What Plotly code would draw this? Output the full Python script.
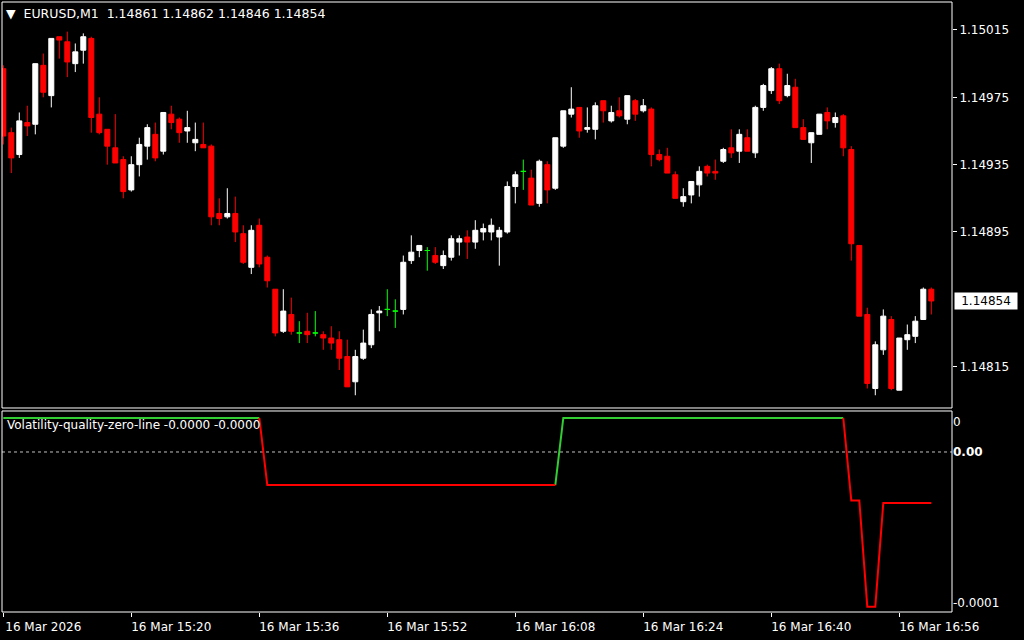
import pandas as pd
import plotly.graph_objects as go

# ---------------- data ----------------
times = pd.date_range("2026-03-16 15:04", periods=117, freq="min")

opens = [1.14992, 1.14954, 1.14941, 1.14960, 1.14959, 1.14994, 1.14976, 1.15011, 1.15008, 1.14995,
         1.15003, 1.15010, 1.14965, 1.14956, 1.14945, 1.14938, 1.14920, 1.14935, 1.14946, 1.14953,
         1.14943, 1.14965, 1.14962, 1.14955, 1.14948, 1.14947, 1.14946, 1.14906, 1.14904, 1.14906,
         1.14894, 1.14874, 1.14899, 1.14880, 1.14861, 1.14836, 1.14846, 1.14835, 1.14836, 1.14835,
         1.14834, 1.14832, 1.14831, 1.14821, 1.14806, 1.14820, 1.14828, 1.14847, 1.14849, 1.14848,
         1.14849, 1.14878, 1.14884, 1.14884, 1.14881, 1.14875, 1.14880, 1.14889, 1.14892, 1.14889,
         1.14895, 1.14895, 1.14892, 1.14895, 1.14922, 1.14931, 1.14927, 1.14912, 1.14935, 1.14921,
         1.14946, 1.14965, 1.14969, 1.14956, 1.14956, 1.14973, 1.14961, 1.14967, 1.14962, 1.14973,
         1.14967, 1.14968, 1.14941, 1.14940, 1.14929, 1.14913, 1.14917, 1.14923, 1.14934, 1.14931,
         1.14937, 1.14945, 1.14943, 1.14951, 1.14942, 1.14969, 1.14979, 1.14992, 1.14976, 1.14981,
         1.14957, 1.14948, 1.14953, 1.14966, 1.14960, 1.14964, 1.14944, 1.14887, 1.14846, 1.14802,
         1.14825, 1.14843, 1.14801, 1.14831, 1.14833, 1.14843, 1.14861]

highs = [1.14994, 1.14957, 1.14966, 1.14970, 1.14995, 1.15001, 1.15010, 1.15011, 1.15014, 1.15007,
         1.15013, 1.15011, 1.14975, 1.14956, 1.14965, 1.14940, 1.14940, 1.14951, 1.14959, 1.14960,
         1.14966, 1.14970, 1.14963, 1.14967, 1.14960, 1.14960, 1.14947, 1.14915, 1.14921, 1.14916,
         1.14899, 1.14899, 1.14903, 1.14881, 1.14861, 1.14861, 1.14856, 1.14842, 1.14847, 1.14848,
         1.14836, 1.14839, 1.14836, 1.14831, 1.14825, 1.14837, 1.14849, 1.14851, 1.14861, 1.14855,
         1.14881, 1.14893, 1.14887, 1.14886, 1.14886, 1.14884, 1.14893, 1.14893, 1.14896, 1.14902,
         1.14900, 1.14903, 1.14898, 1.14925, 1.14931, 1.14938, 1.14932, 1.14938, 1.14937, 1.14951,
         1.14967, 1.14981, 1.14969, 1.14969, 1.14972, 1.14973, 1.14970, 1.14975, 1.14976, 1.14974,
         1.14974, 1.14969, 1.14944, 1.14945, 1.14931, 1.14921, 1.14925, 1.14934, 1.14935, 1.14938,
         1.14945, 1.14956, 1.14956, 1.14956, 1.14970, 1.14983, 1.14993, 1.14995, 1.14989, 1.14986,
         1.14962, 1.14954, 1.14965, 1.14969, 1.14966, 1.14965, 1.14946, 1.14887, 1.14850, 1.14830,
         1.14849, 1.14845, 1.14832, 1.14840, 1.14845, 1.14862, 1.14862]

lows = [1.14947, 1.14930, 1.14939, 1.14952, 1.14953, 1.14975, 1.14969, 1.14998, 1.14987, 1.14990,
        1.14995, 1.14954, 1.14953, 1.14935, 1.14936, 1.14915, 1.14919, 1.14928, 1.14938, 1.14937,
        1.14941, 1.14956, 1.14948, 1.14948, 1.14943, 1.14945, 1.14899, 1.14899, 1.14903, 1.14889,
        1.14876, 1.14870, 1.14874, 1.14862, 1.14833, 1.14835, 1.14834, 1.14829, 1.14829, 1.14833,
        1.14825, 1.14825, 1.14813, 1.14803, 1.14798, 1.14819, 1.14826, 1.14836, 1.14845, 1.14838,
        1.14846, 1.14876, 1.14880, 1.14872, 1.14876, 1.14873, 1.14878, 1.14881, 1.14879, 1.14885,
        1.14890, 1.14890, 1.14875, 1.14894, 1.14912, 1.14920, 1.14911, 1.14910, 1.14912, 1.14920,
        1.14945, 1.14963, 1.14951, 1.14954, 1.14950, 1.14960, 1.14960, 1.14963, 1.14959, 1.14961,
        1.14966, 1.14934, 1.14937, 1.14930, 1.14915, 1.14910, 1.14912, 1.14916, 1.14928, 1.14926,
        1.14936, 1.14939, 1.14936, 1.14943, 1.14939, 1.14967, 1.14977, 1.14971, 1.14975, 1.14957,
        1.14950, 1.14936, 1.14953, 1.14956, 1.14957, 1.14940, 1.14878, 1.14845, 1.14802, 1.14798,
        1.14822, 1.14801, 1.14801, 1.14825, 1.14829, 1.14843, 1.14846]

closes = [1.14952, 1.14939, 1.14961, 1.14958, 1.14995, 1.14978, 1.15010, 1.15009, 1.14996, 1.15002,
          1.15011, 1.14963, 1.14954, 1.14946, 1.14936, 1.14919, 1.14935, 1.14947, 1.14957, 1.14939,
          1.14966, 1.14960, 1.14954, 1.14957, 1.14950, 1.14945, 1.14904, 1.14903, 1.14906, 1.14895,
          1.14877, 1.14896, 1.14876, 1.14866, 1.14835, 1.14848, 1.14836, 1.14835, 1.14834, 1.14835,
          1.14832, 1.14829, 1.14820, 1.14803, 1.14821, 1.14829, 1.14846, 1.14848, 1.14849, 1.14848,
          1.14877, 1.14883, 1.14887, 1.14884, 1.14877, 1.14881, 1.14891, 1.14891, 1.14889, 1.14896,
          1.14897, 1.14899, 1.14896, 1.14922, 1.14929, 1.14931, 1.14911, 1.14937, 1.14920, 1.14951,
          1.14967, 1.14968, 1.14955, 1.14957, 1.14970, 1.14967, 1.14966, 1.14964, 1.14976, 1.14965,
          1.14970, 1.14941, 1.14938, 1.14930, 1.14915, 1.14916, 1.14925, 1.14931, 1.14930, 1.14930,
          1.14944, 1.14942, 1.14953, 1.14943, 1.14969, 1.14982, 1.14992, 1.14973, 1.14982, 1.14957,
          1.14950, 1.14954, 1.14965, 1.14961, 1.14963, 1.14945, 1.14888, 1.14845, 1.14805, 1.14828,
          1.14845, 1.14802, 1.14832, 1.14834, 1.14842, 1.14861, 1.14854]

# Volatility-quality-zero-line indicator (one value per bar)
vq_values = ([0.0000210] * 33 + [-0.0000204] * 37 + [0.0000210] * 36 +
             [-0.0000300] * 2 + [-0.0000955] * 2 + [-0.0000315] * 7)
# bars drawn by the "up" (green) buffer and the "down" (red) buffer
green_segments = [(0, 32), (69, 105)]
red_segments = [(32, 69), (105, 116)]

price_ticks = [1.15015, 1.14975, 1.14935, 1.14895, 1.14815]
time_ticks = ["2026-03-16 15:04", "2026-03-16 15:20", "2026-03-16 15:36", "2026-03-16 15:52",
              "2026-03-16 16:08", "2026-03-16 16:24", "2026-03-16 16:40", "2026-03-16 16:56"]
time_labels = ["16 Mar 2026", "16 Mar 15:20", "16 Mar 15:36", "16 Mar 15:52",
               "16 Mar 16:08", "16 Mar 16:24", "16 Mar 16:40", "16 Mar 16:56"]
symbol = "EURUSD,M1"
indicator_name = "Volatility-quality-zero-line"

# ---------------- figure ----------------
FONT = "DejaVu Sans"
n = len(opens)
up = [i for i in range(n) if closes[i] > opens[i]]
down = [i for i in range(n) if closes[i] < opens[i]]
doji = [i for i in range(n) if closes[i] == opens[i]]


def candles(idx, color):
    style = dict(line=dict(color=color, width=1), fillcolor=color)
    return go.Candlestick(
        x=[times[i] for i in idx],
        open=[opens[i] for i in idx], high=[highs[i] for i in idx],
        low=[lows[i] for i in idx], close=[closes[i] for i in idx],
        increasing=style, decreasing=style, whiskerwidth=0,
        hoverinfo="skip", showlegend=False, xaxis="x", yaxis="y")


def buffer(segments):
    keep = set()
    for a, b in segments:
        keep.update(range(a, b + 1))
    return [vq_values[i] if i in keep else None for i in range(n)]


fig = go.Figure()
fig.add_trace(candles(up, "#ffffff"))
fig.add_trace(candles(down, "#ff0000"))
fig.add_trace(candles(doji, "#00ff00"))
fig.add_trace(go.Scatter(x=times, y=buffer(green_segments), mode="lines",
                         line=dict(color="#32cd32", width=2), connectgaps=False,
                         hoverinfo="skip", showlegend=False, xaxis="x", yaxis="y2"))
fig.add_trace(go.Scatter(x=times, y=buffer(red_segments), mode="lines",
                         line=dict(color="#ff0000", width=2), connectgaps=False,
                         hoverinfo="skip", showlegend=False, xaxis="x", yaxis="y2"))

main_dom = [0.33443, 1.0]
ind_dom = [0.0, 0.32951]
x_start = str(times[0] - pd.Timedelta(seconds=9.75))
x_end = str(times[0] + pd.Timedelta(minutes=118.5875))

fig.update_layout(
    width=1024, height=640,
    margin=dict(l=2, r=72, t=2, b=28),
    paper_bgcolor="#000000", plot_bgcolor="#000000",
    font=dict(family=FONT, color="#ffffff", size=12),
    showlegend=False, boxgap=0.375, boxgroupgap=0,
    xaxis=dict(type="date", range=[x_start, x_end], anchor="y2",
               rangeslider=dict(visible=False), showgrid=False, zeroline=False,
               tickvals=time_ticks, ticktext=time_labels, ticks="outside",
               ticklen=4, tickcolor="#ffffff", ticklabelshift=40,
               tickfont=dict(family=FONT, size=12, color="#ffffff")),
    yaxis=dict(domain=main_dom, range=[1.1479043, 1.1503163], side="right", anchor="x",
               tickvals=price_ticks, ticktext=[f"{p:.5f}" for p in price_ticks],
               ticks="outside", ticklen=4, tickcolor="#ffffff",
               showgrid=False, zeroline=False,
               tickfont=dict(family=FONT, size=12, color="#ffffff")),
    yaxis2=dict(domain=ind_dom, range=[-0.00009877, 0.00002531], side="right", anchor="x",
                tickvals=[0.0000185, 0.0, -0.0000932],
                ticktext=["0", "<b>0.00</b>", "-0.0001"], ticks="",
                showgrid=False, zeroline=False,
                tickfont=dict(family=FONT, size=12, color="#ffffff")),
    shapes=[
        dict(type="rect", xref="paper", yref="paper", x0=0, x1=1, y0=main_dom[0], y1=main_dom[1],
             line=dict(color="#ffffff", width=1), fillcolor="rgba(0,0,0,0)", layer="above"),
        dict(type="rect", xref="paper", yref="paper", x0=0, x1=1, y0=ind_dom[0], y1=ind_dom[1],
             line=dict(color="#ffffff", width=1), fillcolor="rgba(0,0,0,0)", layer="above"),
        dict(type="line", xref="paper", yref="y2", x0=0, x1=1, y0=0, y1=0,
             line=dict(color="#c0c0c0", width=1, dash="dot"), layer="below"),
    ],
    annotations=[
        dict(xref="paper", yref="paper", x=0, y=1, xanchor="left", yanchor="top",
             xshift=2, yshift=-2, showarrow=False,
             text="\u25bc\u00a0\u00a0" + symbol + "\u00a0\u00a0" +
                  f"{opens[-1]:.5f} {highs[-1]:.5f} {lows[-1]:.5f} {closes[-1]:.5f}",
             font=dict(family=FONT, size=12.5, color="#ffffff")),
        dict(xref="paper", yref="paper", x=0, y=ind_dom[1], xanchor="left", yanchor="top",
             xshift=3, yshift=-5, showarrow=False,
             text=f"{indicator_name} -0.0000 -0.0000",
             font=dict(family=FONT, size=12, color="#ffffff")),
        dict(xref="paper", yref="y", x=1, y=closes[-1], xanchor="left", yanchor="middle",
             xshift=2, showarrow=False, text=f"{closes[-1]:.5f}", width=60,
             bgcolor="#ffffff", borderpad=1,
             font=dict(family=FONT, size=12, color="#000000")),
    ],
)

fig.write_html("out.html", config={"displayModeBar": False},
               post_script="document.body.style.margin='0';document.body.style.overflow='hidden';")
